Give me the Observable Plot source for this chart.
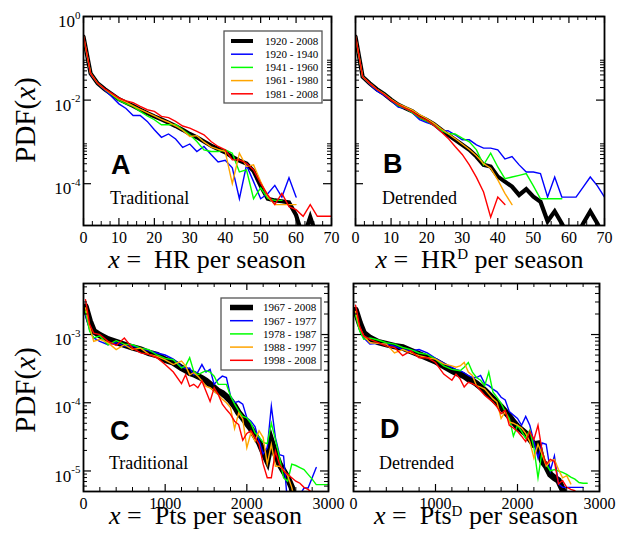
<!DOCTYPE html>
<html>
<head>
<meta charset="utf-8">
<script src="https://cdn.jsdelivr.net/npm/d3@7"></script>
<script src="https://cdn.jsdelivr.net/npm/@observablehq/plot@0.6"></script>
<style>
html,body{margin:0;padding:0;background:#fff;}
#root{position:relative;width:619px;height:537px;overflow:hidden;background:#fff;}
#root svg{position:absolute;}
</style>
</head>
<body>
<div id="root"></div>
<script>
// ---------- categories / labels ----------
const hrPeriods  = ["1920 - 2008", "1920 - 1940", "1941 - 1960", "1961 - 1980", "1981 - 2008"];
const ptsPeriods = ["1967 - 2008", "1967 - 1977", "1978 - 1987", "1988 - 1997", "1998 - 2008"];
const colors = ["#000000", "#0000ff", "#00ff00", "#ffa500", "#ff0000"];

// x bins
const hrBins = [0,2,4,6,8,10,12,14,16,18,20,22,24,26,28,30,32,34,36,38,40,42,44,46,48,50,52,54,56,58,60,62,64,66,68,70];
const ptsBins = [25,75,125,200,300,400,500,600,700,800,900,1000,1100,1200,1250,1300,1350,1400,1450,1500,1550,1600,1650,1700,1750,1800,1850,1900,1950,2000,2050,2100,2150,2200,2250,2300,2350,2400,2450,2500,2550,2600,2650,2700,2750,2800,2850,2900,2950,3000];

// tick labels
const hrTickLabels = [0,10,20,30,40,50,60,70];
const ptsTickLabels = [0,1000,2000,3000];
const hrYLabels = [1, 1e-2, 1e-4];
const ptsYLabels = [1e-3, 1e-4, 1e-5];

// ---------- series: log10 PDF values ----------
// Panel A: HR traditional
const A_all = [-0.48,-1.36,-1.6,-1.74,-1.86,-1.98,-2.06,-2.14,-2.23,-2.31,-2.39,-2.46,-2.54,-2.62,-2.71,-2.81,-2.89,-2.99,-3.09,-3.17,-3.25,-3.36,-3.45,-3.52,-3.7,-4.05,-4.36,-4.4,-4.42,-4.45,-4.75,-5.3,-4.8,-5.3];
const A_p1  = [-0.48,-1.38,-1.6,-1.76,-1.92,-2.09,-2.2,-2.37,-2.37,-2.51,-2.71,-2.89,-2.81,-2.93,-3.13,-3.05,-3.23,-3.11,-3.3,-3.48,-3.44,-3.62,-4.36,-3.56,-3.95,-4.36,-4.24,-4.04,-4.32,-3.86,-4.32];
const A_p2  = [-0.48,-1.36,-1.6,-1.74,-1.87,-2.01,-2.09,-2.15,-2.27,-2.38,-2.47,-2.59,-2.59,-2.58,-2.71,-2.83,-2.99,-3.19,-3.23,-3.23,-3.19,-3.27,-3.72,-3.67,-4.36,-4.1,-4.35,-4.4,-4.4];
const A_p3  = [-0.48,-1.36,-1.6,-1.74,-1.86,-1.97,-2.05,-2.14,-2.22,-2.3,-2.38,-2.46,-2.53,-2.62,-2.72,-2.87,-2.85,-3.0,-3.12,-3.18,-3.23,-4.0,-3.27,-3.59,-3.55,-3.95,-4.31,-4.5,-4.5,-4.5,-4.5];
const A_p4  = [-0.46,-1.36,-1.6,-1.73,-1.84,-1.95,-2.02,-2.06,-2.15,-2.23,-2.27,-2.39,-2.42,-2.51,-2.62,-2.67,-2.75,-2.83,-2.99,-3.11,-3.19,-3.43,-3.43,-3.51,-3.67,-3.99,-4.27,-4.5,-4.23,-4.55,-4.62,-4.78,-4.5,-4.78,-4.78,-4.78];
// Panel B: HR detrended
const B_all = [-0.48,-1.44,-1.6,-1.74,-1.85,-1.99,-2.11,-2.19,-2.27,-2.39,-2.47,-2.57,-2.7,-2.83,-2.95,-3.07,-3.19,-3.35,-3.55,-3.59,-3.83,-3.95,-4.07,-4.27,-4.13,-4.31,-4.43,-4.9,-4.66,-4.95,-5.3,-5.3,-4.95,-4.66,-4.95,-5.3];
const B_p1  = [-0.48,-1.44,-1.62,-1.78,-1.88,-2.01,-2.17,-2.2,-2.3,-2.47,-2.54,-2.59,-2.75,-2.73,-2.83,-2.95,-2.95,-3.07,-3.15,-3.15,-3.19,-3.41,-3.35,-3.55,-3.72,-3.72,-3.76,-4.32,-3.84,-4.32,-4.32,-4.32,-4.08,-3.84,-4.05,-4.32];
const B_p2  = [-0.48,-1.44,-1.6,-1.74,-1.85,-1.99,-2.13,-2.2,-2.3,-2.42,-2.5,-2.6,-2.72,-2.8,-2.81,-2.91,-3.0,-3.19,-3.55,-3.27,-3.6,-3.88,-3.84,-3.8,-3.76,-4.05,-4.36,-4.36,-4.36,-4.36];
const B_p3  = [-0.48,-1.44,-1.6,-1.74,-1.85,-1.98,-2.09,-2.16,-2.24,-2.35,-2.44,-2.55,-2.68,-2.8,-2.92,-3.05,-3.18,-3.33,-3.52,-3.63,-3.91,-4.23,-4.5];
const B_p4  = [-0.46,-1.44,-1.6,-1.74,-1.86,-2.0,-2.11,-2.2,-2.28,-2.4,-2.48,-2.6,-2.75,-2.91,-3.11,-3.3,-3.55,-3.85,-4.2,-4.8,-4.32,-4.5];
// Panel C: Pts traditional
const C_all = [-2.59,-2.80,-2.95,-3.01,-3.07,-3.11,-3.15,-3.19,-3.22,-3.27,-3.30,-3.37,-3.41,-3.49,-3.52,-3.56,-3.58,-3.61,-3.64,-3.68,-3.73,-3.78,-3.83,-3.86,-3.91,-3.97,-4.05,-4.15,-4.22,-4.30,-4.38,-4.48,-4.58,-4.72,-4.85,-4.56,-4.75,-4.90,-5.00,-5.10,-5.24,-5.5];
const C_p1  = [-2.71,-2.93,-3.05,-3.1,-3.15,-3.12,-3.17,-3.17,-3.2,-3.24,-3.27,-3.3,-3.36,-3.47,-3.5,-3.49,-3.59,-3.55,-3.44,-3.55,-3.51,-3.73,-3.66,-3.61,-3.63,-3.9,-4.0,-3.98,-4.02,-4.22,-4.27,-4.35,-4.56,-4.75,-4.66,-4.05,-4.51,-4.76,-4.78,-5.5,-5.5,-5.5,-5.35,-5.25,-5.25,-5.1,-4.95];
const C_p2  = [-2.66,-2.95,-3.05,-3.02,-3.15,-3.09,-3.14,-3.15,-3.2,-3.22,-3.3,-3.35,-3.37,-3.49,-3.46,-3.34,-3.54,-3.59,-3.56,-3.53,-3.55,-3.61,-3.73,-3.73,-3.73,-3.9,-4.02,-4.12,-4.2,-4.22,-4.3,-4.44,-4.5,-4.58,-4.6,-4.3,-4.54,-4.8,-5.1,-5.15,-4.9,-4.92,-4.95,-4.98,-5.05,-5.12,-5.2,-5.2,-5.2,-5.2];
const C_p3  = [-2.61,-2.88,-3.1,-3.07,-3.12,-3.22,-3.15,-3.22,-3.2,-3.29,-3.32,-3.37,-3.44,-3.39,-3.46,-3.59,-3.56,-3.61,-3.68,-3.76,-3.78,-3.83,-3.88,-3.95,-4.0,-4.07,-4.38,-4.15,-4.24,-4.66,-4.44,-4.56,-4.41,-4.51,-4.9,-4.61,-4.93,-4.93,-4.98,-5.07,-5.24,-5.5];
const C_p4  = [-2.49,-2.85,-2.98,-3.0,-3.1,-3.16,-3.05,-3.2,-3.27,-3.29,-3.34,-3.44,-3.55,-3.72,-3.59,-3.76,-3.73,-3.78,-3.68,-3.83,-3.98,-3.78,-3.88,-4.02,-4.1,-4.17,-4.27,-4.32,-4.55,-4.45,-4.41,-4.51,-4.61,-4.9,-5.1,-5.1,-4.71,-4.9,-5.0,-5.05,-5.1,-5.15,-5.18,-5.24,-5.27,-5.32];
// Panel D: Pts detrended
const D_all = [-2.64,-2.83,-2.98,-3.05,-3.11,-3.14,-3.17,-3.19,-3.24,-3.29,-3.34,-3.39,-3.46,-3.53,-3.56,-3.58,-3.61,-3.65,-3.68,-3.72,-3.77,-3.82,-3.88,-3.94,-4.0,-4.06,-4.13,-4.2,-4.28,-4.35,-4.4,-4.45,-4.53,-4.61,-4.6,-4.85,-4.93,-5.05,-5.1,-5.14,-5.27,-5.5];
const D_p1  = [-2.69,-2.93,-3.05,-3.14,-3.13,-3.14,-3.17,-3.22,-3.24,-3.22,-3.27,-3.35,-3.42,-3.48,-3.51,-3.53,-3.56,-3.6,-3.63,-3.63,-3.6,-3.72,-3.75,-3.8,-3.84,-3.92,-3.96,-4.13,-4.18,-4.23,-4.33,-4.2,-4.33,-4.57,-4.81,-4.59,-4.61,-5.0,-4.78,-5.19,-5.24,-5.24,-5.24,-5.24,-5.24,-5.24];
const D_p2  = [-2.71,-2.95,-3.07,-3.05,-3.08,-3.12,-3.14,-3.19,-3.22,-3.27,-3.29,-3.36,-3.46,-3.51,-3.52,-3.53,-3.48,-3.41,-3.55,-3.63,-3.67,-3.75,-3.55,-3.84,-3.92,-4.01,-4.13,-4.23,-4.49,-4.33,-4.42,-4.52,-4.4,-4.66,-5.1,-4.71,-4.9,-5.0,-4.98,-5.0,-5.02,-5.05,-5.09,-5.12,-5.17,-5.18,-5.18];
const D_p3  = [-2.66,-2.9,-3.02,-3.12,-3.13,-3.14,-3.27,-3.22,-3.27,-3.31,-3.34,-3.36,-3.43,-3.46,-3.48,-3.46,-3.41,-3.55,-3.6,-3.75,-3.77,-3.8,-3.87,-3.94,-3.99,-4.23,-4.13,-4.28,-4.3,-4.33,-4.37,-4.45,-4.57,-4.81,-4.61,-4.76,-4.93,-4.86,-4.83,-4.98,-5.1,-5.07,-5.19];
const D_p4  = [-2.57,-2.88,-3.02,-3.07,-3.12,-3.17,-3.19,-3.31,-3.24,-3.34,-3.34,-3.41,-3.58,-3.67,-3.58,-3.65,-3.77,-3.7,-3.72,-3.75,-3.82,-3.89,-3.94,-3.99,-4.06,-4.16,-4.11,-4.33,-4.37,-4.42,-4.49,-4.57,-4.42,-4.54,-4.33,-4.71,-4.9,-4.83,-4.86,-5.19,-5.14,-5.24,-5.27,-5.29];

// ---------- ticks ----------
const hrMinor = d3.range(0, 70.01, 2.5).filter(v => v % 10 !== 0);
const ptsMinor = d3.range(0, 3000.1, 200).filter(v => v % 1000 !== 0);
const hrYMinor = [2,3,4,5,6,7,8,9].flatMap(k => [k * 1e-2, k * 1e-4]);
const ptsYMinor = [6,7,8,9].map(k => k * 1e-6)
  .concat([2,3,4,5,6,7,8,9].flatMap(k => [k * 1e-5, k * 1e-4]))
  .concat([2,3,4,5].map(k => k * 1e-3));

const SERIF = "'Liberation Serif','Times New Roman',serif";
const SANS = "'Liberation Sans',Arial,sans-serif";
const ns = "http://www.w3.org/2000/svg";
const root = document.getElementById("root");

function panel(cfg) {
  const marks = [];
  cfg.series.forEach((vals, s) => {
    const rows = vals.map((v, i) => ({x: cfg.bins[i], y: Math.pow(10, v)}));
    marks.push(Plot.line(rows, {
      x: "x", y: "y", stroke: colors[s],
      strokeWidth: s === 0 ? cfg.blackWidth : 1.4,
      strokeLinejoin: "miter", strokeMiterlimit: 10, clip: true
    }));
  });
  const fw = cfg.fw, fh = cfg.fh;
  marks.push(Plot.tickX(cfg.xTicks, {x: d => d, insetTop: fh - 7, stroke: "#000", strokeWidth: 1.2}));
  marks.push(Plot.tickX(cfg.xTicks, {x: d => d, insetBottom: fh - 7, stroke: "#000", strokeWidth: 1.2}));
  marks.push(Plot.tickX(cfg.xMinor, {x: d => d, insetTop: fh - 4, stroke: "#000", strokeWidth: 1}));
  marks.push(Plot.tickX(cfg.xMinor, {x: d => d, insetBottom: fh - 4, stroke: "#000", strokeWidth: 1}));
  marks.push(Plot.tickY(cfg.yTicks, {y: d => d, insetRight: fw - 8, stroke: "#000", strokeWidth: 1.2}));
  marks.push(Plot.tickY(cfg.yTicks, {y: d => d, insetLeft: fw - 8, stroke: "#000", strokeWidth: 1.2}));
  marks.push(Plot.tickY(cfg.yMinor, {y: d => d, insetRight: fw - 4, stroke: "#000", strokeWidth: 1}));
  marks.push(Plot.tickY(cfg.yMinor, {y: d => d, insetLeft: fw - 4, stroke: "#000", strokeWidth: 1}));
  marks.push(Plot.frame({stroke: "#000", strokeWidth: 1.8}));
  marks.push(Plot.axisX({ticks: cfg.xTicks, tickSize: 0, tickPadding: 6, label: null,
    fontSize: 16, fontFamily: SERIF, tickFormat: d => String(d)}));
  if (cfg.showY) {
    marks.push(Plot.axisY({ticks: cfg.yTicks, tickSize: 0, tickPadding: 3, label: null,
      fontSize: 17, fontFamily: SERIF, tickFormat: d => "10^" + Math.round(Math.log10(d))}));
  }
  const svg = Plot.plot({
    width: cfg.mL + fw + cfg.mR,
    height: cfg.mT + fh + cfg.mB,
    marginLeft: cfg.mL, marginRight: cfg.mR, marginTop: cfg.mT, marginBottom: cfg.mB,
    x: {domain: cfg.xDomain, label: null},
    y: {type: "log", domain: cfg.yDomain, label: null, axis: cfg.showY ? undefined : null},
    style: {fontFamily: SERIF, fontSize: "16px", background: "none", overflow: "visible", color: "#000"},
    marks
  });
  svg.querySelectorAll('g[aria-label="x-axis tick label"] text').forEach(t => {
    t.style.fontFamily = SERIF; t.style.fontSize = "16px"; t.style.fill = "#000";
  });
  svg.querySelectorAll('g[aria-label="y-axis tick label"] text').forEach(t => {
    t.style.fontFamily = SERIF; t.style.fontSize = "17px"; t.style.fill = "#000";
    const s = t.textContent;
    if (!s.includes("^")) return;
    const [b, e] = s.split("^");
    t.textContent = "";
    const a = document.createElementNS(ns, "tspan");
    a.textContent = b; a.setAttribute("dy", "0.3em");
    const c = document.createElementNS(ns, "tspan");
    c.textContent = e; c.setAttribute("dy", "-0.75em"); c.style.fontSize = "11px";
    t.appendChild(a); t.appendChild(c);
  });
  svg.style.left = (cfg.left - cfg.mL) + "px";
  svg.style.top = (cfg.top - cfg.mT) + "px";
  root.appendChild(svg);
}

panel({left: 83, top: 16, fw: 248, fh: 209, mL: 70, mR: 12, mT: 14, mB: 30,
  xDomain: [0, 70], yDomain: [1e-5, 1], bins: hrBins,
  series: [A_all, A_p1, A_p2, A_p3, A_p4], blackWidth: 4.2,
  xTicks: hrTickLabels, xMinor: hrMinor, yTicks: hrYLabels, yMinor: hrYMinor, showY: true});
panel({left: 355, top: 16, fw: 249, fh: 209, mL: 12, mR: 14, mT: 14, mB: 30,
  xDomain: [0, 70], yDomain: [1e-5, 1], bins: hrBins,
  series: [B_all, B_p1, B_p2, B_p3, B_p4], blackWidth: 4.2,
  xTicks: hrTickLabels, xMinor: hrMinor, yTicks: hrYLabels, yMinor: hrYMinor, showY: false});
panel({left: 83, top: 283, fw: 245, fh: 208, mL: 70, mR: 24, mT: 10, mB: 30,
  xDomain: [0, 3000], yDomain: [5e-6, 5.6e-3], bins: ptsBins,
  series: [C_all, C_p1, C_p2, C_p3, C_p4], blackWidth: 6.5,
  xTicks: ptsTickLabels, xMinor: ptsMinor, yTicks: ptsYLabels, yMinor: ptsYMinor, showY: true});
panel({left: 353, top: 283, fw: 246, fh: 208, mL: 12, mR: 24, mT: 10, mB: 30,
  xDomain: [0, 3000], yDomain: [5e-6, 5.6e-3], bins: ptsBins,
  series: [D_all, D_p1, D_p2, D_p3, D_p4], blackWidth: 6.5,
  xTicks: ptsTickLabels, xMinor: ptsMinor, yTicks: ptsYLabels, yMinor: ptsYMinor, showY: false});

// ---------- overlay: titles, panel letters, legends ----------
const ov = d3.select(root).append("svg")
  .attr("width", 619).attr("height", 537)
  .style("left", "0px").style("top", "0px").style("pointer-events", "none");

function yTitle(cy) {
  const t = ov.append("text").attr("transform", `translate(35,${cy}) rotate(-90)`)
    .attr("text-anchor", "middle").attr("font-family", SERIF).attr("font-size", 29).attr("fill", "#000");
  t.append("tspan").text("PDF(");
  t.append("tspan").attr("font-style", "italic").text("x");
  t.append("tspan").text(")");
}
yTitle(120); yTitle(390);

function xTitle(cx, y, name, sup) {
  const t = ov.append("text").attr("x", cx).attr("y", y).attr("text-anchor", "middle")
    .attr("font-family", SERIF).attr("font-size", 26).attr("fill", "#000");
  t.append("tspan").attr("font-style", "italic").text("x");
  t.append("tspan").text(" =\u00a0\u00a0" + name);
  if (sup) {
    t.append("tspan").attr("font-size", 15).attr("dy", "-0.55em").text("D");
    t.append("tspan").attr("dy", "0.33em").text(" per season");
  } else {
    t.append("tspan").text(" per season");
  }
}
xTitle(207, 267.5, "HR", false);
xTitle(479.5, 267.5, "HR", true);
xTitle(205.5, 524, "Pts", false);
xTitle(476, 524, "Pts", true);

function note(x, yLetter, letter, yWord, word) {
  ov.append("text").attr("x", x).attr("y", yLetter).attr("font-family", SANS).attr("font-weight", "bold")
    .attr("font-size", 27).attr("fill", "#000").text(letter);
  ov.append("text").attr("x", x - 1).attr("y", yWord).attr("font-family", SERIF)
    .attr("font-size", 18).attr("fill", "#000").text(word);
}
note(111, 174, "A", 204, "Traditional");
note(383, 173, "B", 204, "Detrended");
note(110, 440, "C", 469, "Traditional");
note(380, 438, "D", 469, "Detrended");

function legend(x, y, w, h, labels, blackW, lx0, lx1, tx, row0) {
  ov.append("rect").attr("x", x).attr("y", y).attr("width", w).attr("height", h)
    .attr("fill", "#fff").attr("stroke", "#555").attr("stroke-width", 1.3);
  labels.forEach((lab, i) => {
    const yy = row0 + 13.2 * i;
    ov.append("line").attr("x1", lx0).attr("x2", lx1).attr("y1", yy).attr("y2", yy)
      .attr("stroke", colors[i]).attr("stroke-width", i === 0 ? blackW : 1.5);
    ov.append("text").attr("x", tx).attr("y", yy + 3.8).attr("font-family", SERIF)
      .attr("font-size", 11).attr("fill", "#000").text(lab);
  });
}
legend(224, 31, 98, 72, hrPeriods, 4, 231, 253, 265, 41);
legend(221, 298, 100, 72, ptsPeriods, 5.5, 230, 253, 263, 307.5);
</script>
</body>
</html>
